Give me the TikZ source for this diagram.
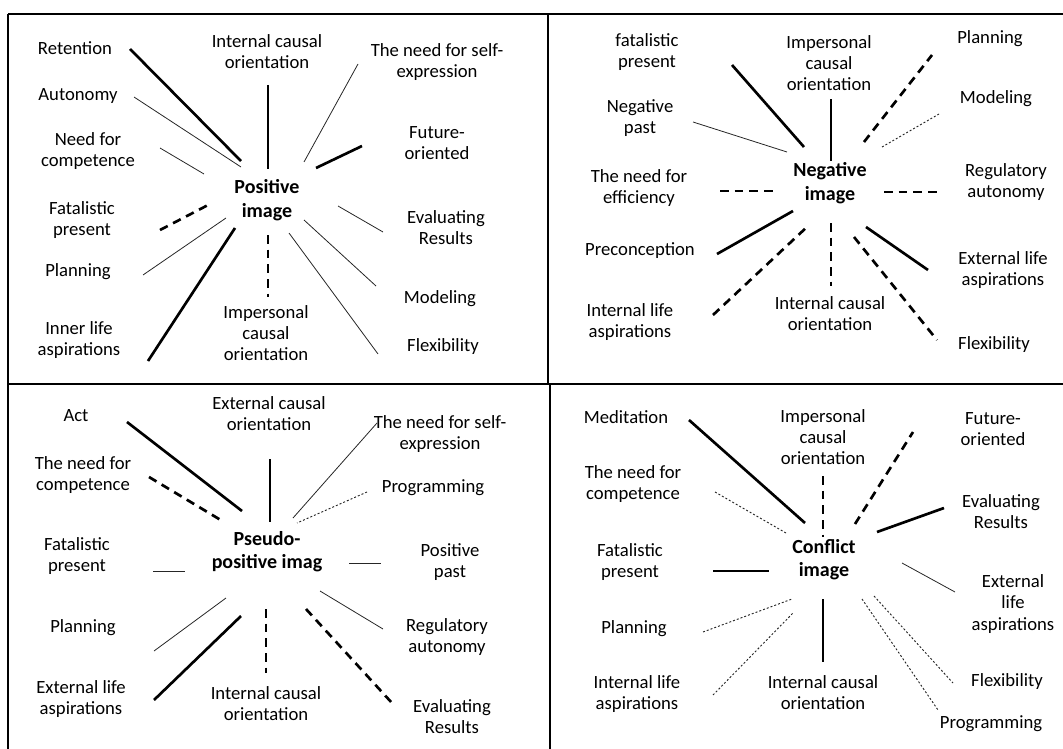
\documentclass[tikz,border=0pt]{standalone}
\usepackage{fontspec}
\setmainfont{Carlito}
\usetikzlibrary{positioning}
\tikzset{lbl/.style={align=center,inner sep=0pt,font=\fontsize{14}{15.8}\selectfont},core/.style={lbl,font=\fontsize{15}{17.5}\selectfont\bfseries},strong/.style={line width=2pt},strongdash/.style={line width=2pt,dash pattern=on 6.5pt off 4.5pt},weak/.style={line width=0.6pt,draw=black!85},weakdot/.style={line width=0.7pt,draw=black!85,dash pattern=on 1.5pt off 1.5pt},frame/.style={line width=1.5pt}}

\begin{document}
\begin{tikzpicture}[x=0.75pt,y=-0.75pt]
\useasboundingbox (0,0) rectangle (1063,749);
% table frame
\coordinate (tl) at (8,14);\coordinate (tr) at (1063,14);\coordinate (bl) at (8,749);
\coordinate (ml) at (8,384);\coordinate (mr) at (1063,384);
\coordinate (vt) at (548,14);\coordinate (vm) at (548,384);\coordinate (vn) at (550,384);\coordinate (vb) at (550,749);
\draw[frame] (tl) -- (tr);\draw[frame] (tl) -- (bl);\draw[frame] (ml) -- (mr);
\draw[frame] (vt) -- (vm);\draw[frame] (vn) -- (vb);

% positive image
\node[core] (pos) at (267,200) {Positive\\image};
\node[lbl] (posret) at (75,48) {Retention};
\node[lbl] (posint) at (267,52) {Internal causal\\orientation};
\node[lbl] (posself) at (437,62) {The need for self-\\expression};
\node[lbl] (posaut) at (78,96) {Autonomy};
\node[lbl] (poscomp) at (88,151) {Need for\\competence};
\node[lbl] (posfut) at (437,143) {Future-\\oriented};
\node[lbl] (posfat) at (82,220) {Fatalistic\\present};
\node[lbl] (poseval) at (446,228) {Evaluating\\Results};
\node[lbl] (posplan) at (78,272) {Planning};
\node[lbl] (posmod) at (440,299) {Modeling};
\node[lbl] (posinner) at (79,340) {Inner life\\aspirations};
\node[lbl] (posimp) at (266,333) {Impersonal\\causal\\orientation};
\node[lbl] (posflex) at (443,347) {Flexibility};
\foreach \s/\xa/\ya/\xb/\yb in {strong/130/49/241/161, weak/134/97/241/167, weak/160/148/204/174,
  strong/268/85/268/169, weak/358/64/304/162, strong/316/168/362/146, strongdash/160/230/210/204,
  weak/338/206/383/232, weak/143/275/226/218, strong/148/361/235/228, strongdash/268/235/268/297,
  weak/304/220/376/286, weak/289/233/378/354}
  \draw[\s] (\xa,\ya) -- (\xb,\yb);

% negative image
\node[core] (neg) at (830,183) {Negative\\image};
\node[lbl] (negfat) at (647,52) {fatalistic\\present};
\node[lbl] (negimp) at (829,63) {Impersonal\\causal\\orientation};
\node[lbl] (negplan) at (990,39) {Planning};
\node[lbl] (negpast) at (640,118) {Negative\\past};
\node[lbl] (negmod) at (996,99) {Modeling};
\node[lbl] (negeff) at (639,188) {The need for\\efficiency};
\node[lbl] (negreg) at (1006,182) {Regulatory\\autonomy};
\node[lbl] (negpre) at (640,251) {Preconception};
\node[lbl] (negext) at (1003,270) {External life\\aspirations};
\node[lbl] (neginner) at (630,322) {Internal life\\aspirations};
\node[lbl] (negint) at (830,314) {Internal causal\\orientation};
\node[lbl] (negflex) at (994,345) {Flexibility};
\foreach \s/\xa/\ya/\xb/\yb in {strong/732/65/804/147, weak/693/122/787/152, strong/831/99/831/161,
  strongdash/864/142/932/55, weakdot/882/147/939/114, strongdash/720/191/777/191,
  strongdash/884/192/940/192, strong/717/254/793/211, strongdash/713/315/808/226,
  strongdash/831/223/831/286, strongdash/854/237/937/340, strong/866/227/928/270}
  \draw[\s] (\xa,\ya) -- (\xb,\yb);

% pseudo-positive image
\node[core] (pseudo) at (267,552) {Pseudo-\\positive imag};
\node[lbl] (psact) at (76,416) {Act};
\node[lbl] (psext) at (269,414) {External causal\\orientation};
\node[lbl] (psself) at (440,434) {The need for self-\\expression};
\node[lbl] (pscomp) at (83,475) {The need for\\competence};
\node[lbl] (psprog) at (433,488) {Programming};
\node[lbl] (psfat) at (77,556) {Fatalistic\\present};
\node[lbl] (pspast) at (450,562) {Positive\\past};
\node[lbl] (psplan) at (83,628) {Planning};
\node[lbl] (psreg) at (447,637) {Regulatory\\autonomy};
\node[lbl] (pslife) at (81,699) {External life\\aspirations};
\node[lbl] (psint) at (266,704) {Internal causal\\orientation};
\node[lbl] (pseval) at (452,717) {Evaluating\\Results};
\foreach \s/\xa/\ya/\xb/\yb in {strong/127/422/242/511, strongdash/149/477/224/522, strong/270/459/270/522,
  weak/377/423/293/518, weakdot/367/492/297/523, weak/153/571/185/571, weak/349/563/381/563,
  weak/154/651/226/598, strong/154/700/241/616, strongdash/266/609/266/673,
  weak/320/591/383/629, strongdash/306/609/392/703}
  \draw[\s] (\xa,\ya) -- (\xb,\yb);

% conflict image
\node[core] (conf) at (824,560) {Conflict\\image};
\node[lbl] (cfmed) at (626,417) {Meditation};
\node[lbl] (cfimp) at (823,437) {Impersonal\\causal\\orientation};
\node[lbl] (cffut) at (993,429) {Future-\\oriented};
\node[lbl] (cfcomp) at (633,484) {The need for\\competence};
\node[lbl] (cfeval) at (1001,512) {Evaluating\\Results};
\node[lbl] (cffat) at (630,562) {Fatalistic\\present};
\node[lbl] (cfext) at (1013,604) {External\\life\\aspirations};
\node[lbl] (cfplan) at (634,629) {Planning};
\node[lbl] (cfinner) at (637,694) {Internal life\\aspirations};
\node[lbl] (cfint) at (823,693) {Internal causal\\orientation};
\node[lbl] (cfflex) at (1007,682) {Flexibility};
\node[lbl] (cfprog) at (991,724) {Programming};
\foreach \s/\xa/\ya/\xb/\yb in {strong/689/420/805/523, weakdot/715/492/786/533, strongdash/823/476/823/537,
  strongdash/855/524/913/432, strong/877/532/944/508, strong/713/571/769/571,
  weak/902/563/955/592, weakdot/703/632/792/599, weakdot/713/695/793/613,
  strong/823/599/823/662, weakdot/862/599/938/710, weakdot/874/596/953/683}
  \draw[\s] (\xa,\ya) -- (\xb,\yb);
\end{tikzpicture}
\end{document}
